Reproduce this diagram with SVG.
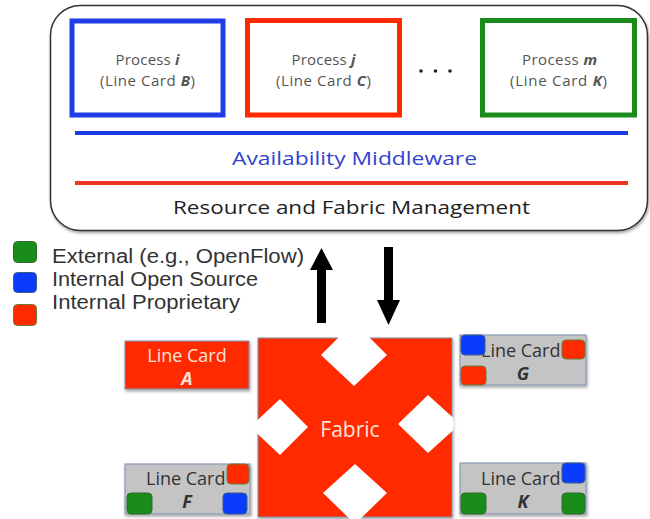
<svg xmlns="http://www.w3.org/2000/svg" width="650" height="519" viewBox="0 0 650 519">
<defs>
<style>
.cal{font-family:"Open Sans","Liberation Sans",sans-serif}
.proc{font-size:15px;fill:#555;text-anchor:middle}
.bi{font-weight:bold;font-style:italic}
.leg{font-family:"Liberation Sans",Arial,sans-serif;font-size:20px;fill:#333}
.card{fill:#c4c4c4;stroke:#8a9cb8;stroke-width:1.2}
.lct{font-size:18px;fill:#333}
.sq-g{fill:#1a8c1a;stroke:#2f6b2f;stroke-width:1}
.sq-b{fill:#0a3cff;stroke:#3a5a88;stroke-width:1}
.sq-r{fill:#ff2a00;stroke:#6b7a34;stroke-width:1}
.red{fill:#ff2a00}
.dia{fill:#fff;stroke:#c8ccd8;stroke-width:1.2}
</style>
<filter id="sh" x="-5%" y="-5%" width="110%" height="115%">
<feDropShadow dx="1" dy="2" stdDeviation="1.5" flood-color="#000" flood-opacity="0.35"/>
</filter>
<clipPath id="fclip"><rect x="256.5" y="336.5" width="197" height="184"/></clipPath>
</defs>
<rect width="650" height="519" fill="#fff"/>

<g id="controller">
<rect x="50.5" y="5.5" width="597" height="225" rx="30" fill="#fff" stroke="#333" stroke-width="1.5" filter="url(#sh)"/>
</g>

<g id="process-i">
<rect x="72" y="21" width="151" height="94" fill="#fff" stroke="#1f3ee6" stroke-width="5"/>
<text class="cal proc" x="147.5" y="65" textLength="64">Process <tspan class="bi">i</tspan></text>
<text class="cal proc" x="147.5" y="86" textLength="95">(Line Card <tspan class="bi">B</tspan>)</text>
</g>
<g id="process-j">
<rect x="247.5" y="20.5" width="152" height="94.5" fill="#fff" stroke="#ff2a00" stroke-width="5"/>
<text class="cal proc" x="323.5" y="65" textLength="64">Process <tspan class="bi">j</tspan></text>
<text class="cal proc" x="323.5" y="86" textLength="95">(Line Card <tspan class="bi">C</tspan>)</text>
</g>
<g id="dots">
<circle cx="421" cy="71" r="1.8" fill="#222"/>
<circle cx="435.5" cy="71" r="1.8" fill="#222"/>
<circle cx="450" cy="71" r="1.8" fill="#222"/>
</g>
<g id="process-m">
<rect x="482.5" y="20.5" width="152" height="94.5" fill="#fff" stroke="#1a8a1a" stroke-width="5"/>
<text class="cal proc" x="559.5" y="65" textLength="75">Process <tspan class="bi">m</tspan></text>
<text class="cal proc" x="558.5" y="86" textLength="97">(Line Card <tspan class="bi">K</tspan>)</text>
</g>

<g id="middleware">
<line x1="75" y1="133" x2="628" y2="133" stroke="#1a3ae0" stroke-width="4"/>
<text class="cal" x="354.5" y="165" font-size="18" fill="#3344cc" text-anchor="middle" textLength="245" lengthAdjust="spacingAndGlyphs">Availability Middleware</text>
</g>
<g id="resource">
<line x1="75" y1="183" x2="628" y2="183" stroke="#ee3322" stroke-width="4"/>
<text class="cal" x="351.5" y="214" font-size="19" fill="#222" text-anchor="middle" textLength="357" lengthAdjust="spacingAndGlyphs">Resource and Fabric Management</text>
</g>

<g id="legend">
<rect class="sq-g" x="13.5" y="241.5" width="23" height="21" rx="4"/>
<rect class="sq-b" x="13.5" y="272.5" width="23" height="20" rx="4"/>
<rect class="sq-r" x="13.5" y="304.5" width="23" height="21" rx="4"/>
<text class="leg" x="52" y="263" textLength="252" lengthAdjust="spacingAndGlyphs">External (e.g., OpenFlow)</text>
<text class="leg" x="52" y="286" textLength="206" lengthAdjust="spacingAndGlyphs">Internal Open Source</text>
<text class="leg" x="52" y="309" textLength="188" lengthAdjust="spacingAndGlyphs">Internal Proprietary</text>
</g>

<g id="connectors">
<path d="M317 323 V270 H310 L321.5 248 L333 270 H326 V323 Z" fill="#000"/>
<path d="M384 247 V300 H377 L388.5 325 L400 300 H393 V247 Z" fill="#000"/>
</g>

<g id="line-card-a">
<rect x="125" y="341" width="124" height="48" class="red" stroke="#8090a8" stroke-width="1" filter="url(#sh)"/>
<text class="cal" x="187" y="362" font-size="18" fill="#fde2da" text-anchor="middle">Line Card</text>
<text class="cal bi" x="187" y="385" font-size="18" fill="#fde2da" text-anchor="middle">A</text>
</g>

<g id="fabric">
<rect x="258" y="338" width="194" height="179" class="red" stroke="#8090a8" stroke-width="1" filter="url(#sh)"/>
<g clip-path="url(#fclip)">
<polygon points="354,322 387,355 354,386 321,355" fill="#fff"/>
<polygon points="280,399 308,427 280,455 250,427" fill="#fff"/>
<polygon points="428,395 398,424 428,453 460,424" fill="#fff"/>
<polygon points="355,464 387,493 355,524 323,493" fill="#fff"/>
</g>
<text class="cal" x="350" y="437" font-size="21" fill="#fde2da" text-anchor="middle">Fabric</text>
</g>

<g id="line-card-g">
<rect class="card" x="460" y="335" width="126" height="50" filter="url(#sh)"/>
<text class="cal lct" x="481" y="357">Line Card</text>
<text class="cal lct bi" x="523" y="380" text-anchor="middle">G</text>
<rect class="sq-b" x="461" y="335" width="24" height="20" rx="4"/>
<rect class="sq-r" x="562" y="340" width="23" height="19" rx="4"/>
<rect class="sq-r" x="461" y="366" width="25" height="19" rx="4"/>
</g>

<g id="line-card-f">
<rect class="card" x="125" y="464" width="125" height="50" filter="url(#sh)"/>
<text class="cal lct" x="146" y="485">Line Card</text>
<text class="cal lct bi" x="187" y="508" text-anchor="middle">F</text>
<rect class="sq-r" x="227" y="464" width="22" height="20" rx="4"/>
<rect class="sq-g" x="127" y="493" width="25" height="21" rx="4"/>
<rect class="sq-b" x="223" y="493" width="24" height="21" rx="4"/>
</g>

<g id="line-card-k">
<rect class="card" x="460" y="463" width="126" height="51" filter="url(#sh)"/>
<text class="cal lct" x="481" y="485">Line Card</text>
<text class="cal lct bi" x="523" y="508" text-anchor="middle">K</text>
<rect class="sq-b" x="562" y="463" width="23" height="20" rx="4"/>
<rect class="sq-g" x="461" y="493" width="25" height="21" rx="4"/>
<rect class="sq-g" x="562" y="493" width="23" height="21" rx="4"/>
</g>
</svg>
